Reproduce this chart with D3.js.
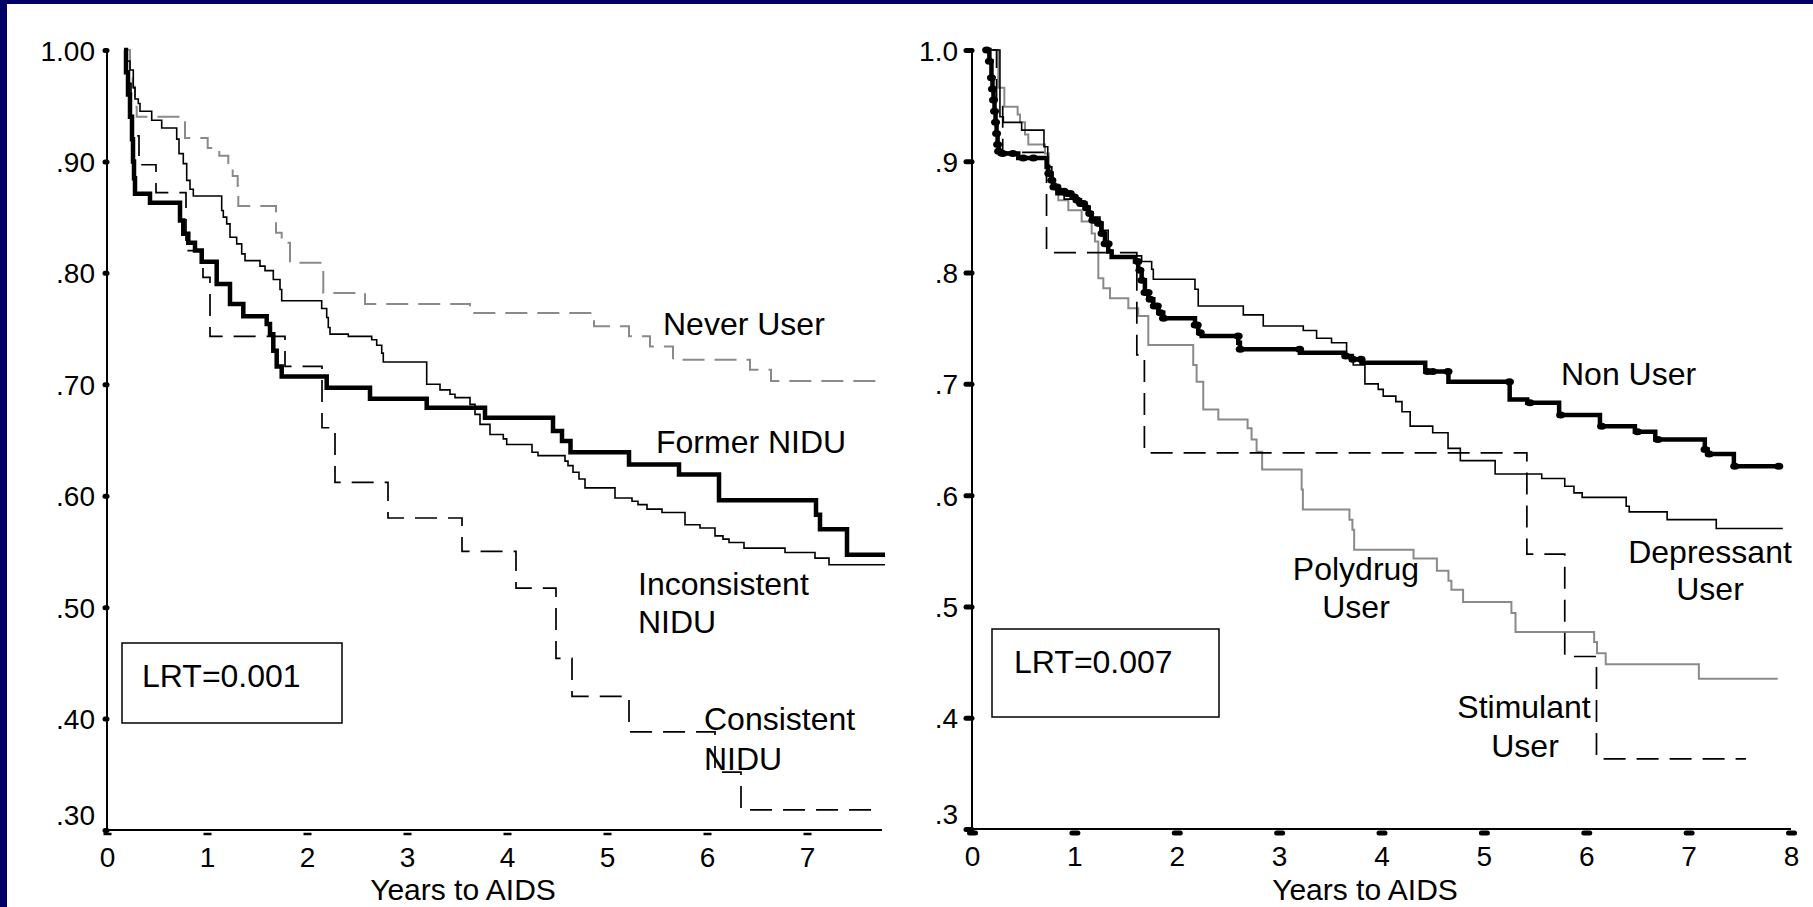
<!DOCTYPE html>
<html>
<head>
<meta charset="utf-8">
<script src="https://cdn.jsdelivr.net/npm/d3@7/dist/d3.min.js"></script>
<style>
html,body{margin:0;padding:0;background:#000068;}
svg{display:block;}
text{font-family:"Liberation Sans",Arial,sans-serif;fill:#000;}
</style>
</head>
<body>
<svg id="chart" width="1813" height="907"></svg>
<script>
// ---------- DATA (time in years, survival proportion) ----------
const leftXTicks = [0,1,2,3,4,5,6,7];
const leftYTicks = [1.0,0.9,0.8,0.7,0.6,0.5,0.4,0.3];
const leftYLabels = ["1.00",".90",".80",".70",".60",".50",".40",".30"];

const neverUser = [[0.213,1.0],[0.23,0.982],[0.257,0.967],[0.28,0.949],[0.297,0.94],[0.78,0.921],[1.007,0.912],[1.123,0.905],[1.213,0.896],[1.257,0.887],[1.307,0.878],[1.313,0.86],[1.69,0.836],[1.747,0.827],[1.83,0.809],[2.163,0.782],[2.58,0.772],[3.63,0.764],[4.87,0.752],[5.22,0.743],[5.43,0.734],[5.66,0.722],[6.43,0.713],[6.64,0.703],[7.78,0.703]];

const formerNIDU = [[0.17,1.0],[0.19,0.98],[0.21,0.96],[0.23,0.94],[0.25,0.92],[0.26,0.9],[0.27,0.885],[0.28,0.871],[0.43,0.863],[0.73,0.847],[0.763,0.835],[0.813,0.827],[0.88,0.82],[0.947,0.81],[1.097,0.79],[1.23,0.772],[1.363,0.761],[1.597,0.754],[1.63,0.745],[1.663,0.73],[1.697,0.716],[1.747,0.707],[2.197,0.697],[2.63,0.687],[3.197,0.679],[3.78,0.67],[4.46,0.658],[4.55,0.649],[4.635,0.639],[5.22,0.628],[5.72,0.619],[6.12,0.596],[7.09,0.583],[7.13,0.57],[7.4,0.547],[7.78,0.547]];

const inconsistentNIDU = [[0.18,1.0],[0.2,0.99],[0.23,0.982],[0.263,0.966],[0.28,0.956],[0.313,0.952],[0.33,0.945],[0.447,0.937],[0.547,0.93],[0.697,0.92],[0.72,0.907],[0.763,0.898],[0.797,0.883],[0.83,0.875],[0.863,0.869],[1.147,0.856],[1.163,0.85],[1.197,0.844],[1.23,0.832],[1.297,0.826],[1.347,0.817],[1.38,0.811],[1.53,0.806],[1.58,0.802],[1.663,0.794],[1.73,0.785],[1.747,0.775],[2.147,0.768],[2.197,0.76],[2.213,0.751],[2.23,0.745],[2.413,0.743],[2.647,0.74],[2.697,0.735],[2.747,0.728],[2.763,0.72],[3.197,0.70],[3.33,0.695],[3.43,0.691],[3.48,0.688],[3.63,0.682],[3.68,0.673],[3.73,0.664],[3.83,0.655],[3.963,0.651],[3.997,0.646],[4.25,0.639],[4.31,0.636],[4.58,0.631],[4.61,0.627],[4.66,0.621],[4.72,0.615],[4.78,0.607],[5.08,0.598],[5.25,0.595],[5.31,0.592],[5.4,0.588],[5.55,0.585],[5.78,0.574],[5.93,0.571],[6.08,0.564],[6.16,0.561],[6.22,0.558],[6.37,0.553],[6.78,0.549],[7.08,0.544],[7.22,0.538],[7.78,0.538]];

const consistentNIDU = [[0.17,1.0],[0.2,0.97],[0.24,0.923],[0.32,0.897],[0.49,0.872],[0.79,0.82],[0.96,0.796],[1.03,0.743],[1.78,0.716],[2.15,0.661],[2.28,0.612],[2.81,0.58],[3.55,0.55],[4.09,0.517],[4.49,0.454],[4.65,0.42],[5.22,0.388],[6.08,0.352],[6.34,0.318],[7.69,0.318]];

const rightXTicks = [0,1,2,3,4,5,6,7,8];
const rightYTicks = [1.0,0.9,0.8,0.7,0.6,0.5,0.4,0.3];
const rightYLabels = ["1.0",".9",".8",".7",".6",".5",".4",".3"];

const nonUser = [[0.143,1.0],[0.17,0.99],[0.19,0.975],[0.2,0.965],[0.21,0.955],[0.22,0.945],[0.23,0.935],[0.24,0.925],[0.25,0.915],[0.26,0.909],[0.273,0.907],[0.452,0.903],[0.729,0.895],[0.745,0.889],[0.778,0.883],[0.794,0.877],[0.843,0.873],[0.908,0.871],[0.973,0.868],[1.006,0.865],[1.055,0.862],[1.104,0.858],[1.136,0.853],[1.169,0.847],[1.217,0.844],[1.266,0.835],[1.299,0.826],[1.331,0.819],[1.364,0.814],[1.592,0.81],[1.624,0.802],[1.657,0.793],[1.689,0.782],[1.722,0.776],[1.771,0.77],[1.82,0.764],[1.868,0.759],[2.178,0.753],[2.21,0.746],[2.243,0.743],[2.601,0.737],[2.617,0.731],[3.203,0.728],[3.643,0.725],[3.708,0.722],[3.805,0.719],[4.427,0.711],[4.654,0.702],[5.252,0.686],[5.423,0.683],[5.735,0.672],[6.134,0.662],[6.475,0.657],[6.674,0.65],[7.158,0.641],[7.186,0.637],[7.442,0.626],[7.898,0.626]];
const nonUserCensor = [0.143,0.17,0.19,0.2,0.21,0.22,0.23,0.24,0.25,0.26,0.3,0.4,0.5,0.6,0.75,0.78,0.8,0.83,0.86,0.9,0.93,0.96,1.0,1.03,1.06,1.09,1.12,1.15,1.18,1.21,1.24,1.27,1.3,1.33,1.62,1.64,1.66,1.69,1.72,1.74,1.78,1.81,1.84,1.87,2.18,2.2,2.23,2.6,2.62,3.2,3.65,3.72,3.8,4.45,4.5,4.65,5.25,5.45,5.75,6.15,6.5,6.7,7.16,7.2,7.45,7.88];

const depressantUser = [[0.18,1.0],[0.273,0.94],[0.306,0.935],[0.485,0.928],[0.703,0.913],[0.74,0.895],[0.78,0.88],[0.82,0.87],[0.9,0.866],[1.05,0.86],[1.15,0.85],[1.25,0.838],[1.33,0.82],[1.364,0.815],[1.657,0.81],[1.755,0.803],[1.771,0.794],[2.178,0.785],[2.21,0.77],[2.65,0.762],[2.845,0.752],[3.236,0.748],[3.366,0.741],[3.512,0.737],[3.659,0.726],[3.724,0.717],[3.838,0.70],[3.968,0.695],[4.017,0.689],[4.14,0.684],[4.2,0.675],[4.28,0.662],[4.5,0.656],[4.65,0.642],[4.77,0.631],[5.11,0.619],[5.565,0.615],[5.79,0.608],[5.88,0.602],[5.96,0.598],[6.39,0.59],[6.42,0.585],[6.79,0.578],[7.27,0.57],[7.92,0.57]];

const polydrugUser = [[0.2,1.0],[0.257,0.966],[0.316,0.949],[0.446,0.942],[0.469,0.935],[0.518,0.924],[0.55,0.915],[0.713,0.907],[0.75,0.89],[0.778,0.875],[0.843,0.865],[0.941,0.856],[1.071,0.846],[1.169,0.835],[1.201,0.828],[1.234,0.795],[1.283,0.786],[1.348,0.777],[1.527,0.768],[1.624,0.761],[1.722,0.735],[2.161,0.717],[2.194,0.702],[2.259,0.677],[2.406,0.668],[2.692,0.66],[2.731,0.65],[2.78,0.639],[2.834,0.623],[3.22,0.605],[3.232,0.587],[3.687,0.578],[3.716,0.569],[3.733,0.551],[4.313,0.543],[4.541,0.532],[4.654,0.523],[4.683,0.515],[4.797,0.504],[5.269,0.494],[5.309,0.477],[6.077,0.468],[6.105,0.458],[6.19,0.448],[7.1,0.435],[7.87,0.435]];

const stimulantUser = [[0.2,1.0],[0.24,0.95],[0.3,0.908],[0.728,0.818],[1.61,0.726],[1.684,0.638],[5.42,0.547],[5.79,0.455],[6.1,0.363],[7.56,0.363]];

// ---------- DRAWING ----------
const svg = d3.select("#chart");
svg.append("rect").attr("x",0).attr("y",0).attr("width",1813).attr("height",907).attr("fill","#000068");
svg.append("rect").attr("x",7).attr("y",4).attr("width",1806).attr("height",903).attr("fill","#ffffff");

const xL = d3.scaleLinear().domain([0,7.75]).range([107,882]);
const yL = d3.scaleLinear().domain([0.3,1.0]).range([830,50]);
const xR = d3.scaleLinear().domain([0,8]).range([972,1791]);
const yR = d3.scaleLinear().domain([0.3,1.0]).range([829,50]);

function stepLine(x,y){
  return d3.line().x(d=>x(d[0])).y(d=>y(d[1])).curve(d3.curveStepAfter);
}
const lineL = stepLine(xL,yL), lineR = stepLine(xR,yR);

function drawCurve(g, line, data, stroke, width, dash){
  g.append("path").attr("d", line(data)).attr("fill","none")
    .attr("stroke",stroke).attr("stroke-width",width)
    .attr("stroke-dasharray",dash||null).attr("stroke-linejoin","miter").attr("stroke-linecap","butt");
}

// ---- Left panel axes ----
const gL = svg.append("g");
const axL = gL.append("g").attr("transform",`translate(${xL(0)},0)`)
  .call(d3.axisLeft(yL).tickValues(leftYTicks).tickSize(2).tickPadding(10).tickFormat((d,i)=>leftYLabels[i]));
axL.select(".domain").attr("stroke","#000").attr("stroke-width",2).attr("d",`M0,${yL(1)}V${yL(0.3)}`);
axL.selectAll(".tick line").attr("stroke","#000").attr("stroke-width",5).attr("stroke-linecap","round");
axL.selectAll(".tick text").attr("font-size",28).attr("dy","0.36em");
axL.selectAll(".tick").filter(d=>d===0.3).select("text").attr("dy","-0.2em");

const axLB = gL.append("g").attr("transform",`translate(0,${yL(0.3)})`)
  .call(d3.axisBottom(xL).tickValues(leftXTicks).tickSize(0).tickPadding(17).tickFormat(d3.format("d")));
axLB.select(".domain").attr("stroke","#000").attr("stroke-width",2).attr("d",`M${xL(0)},0H${xL(7.75)}`);
axLB.selectAll(".tick").append("line").attr("x1",-4).attr("x2",4).attr("y1",4).attr("y2",4).attr("stroke","#000").attr("stroke-width",2.5);
axLB.selectAll(".tick text").attr("font-size",28);

// ---- Right panel axes ----
const gR = svg.append("g");
const axR = gR.append("g").attr("transform",`translate(${xR(0)},0)`)
  .call(d3.axisLeft(yR).tickValues(rightYTicks).tickSize(6).tickPadding(8).tickFormat((d,i)=>rightYLabels[i]));
axR.select(".domain").attr("stroke","#000").attr("stroke-width",2).attr("d",`M0,${yR(1)}V${yR(0.3)}`);
axR.selectAll(".tick line").attr("stroke","#000").attr("stroke-width",5).attr("stroke-linecap","round");
axR.selectAll(".tick text").attr("font-size",28).attr("dy","0.36em");
axR.selectAll(".tick").filter(d=>d===0.3).select("text").attr("dy","-0.2em");

const axRB = gR.append("g").attr("transform",`translate(0,${yR(0.3)})`)
  .call(d3.axisBottom(xR).tickValues(rightXTicks).tickSize(0).tickPadding(17).tickFormat(d3.format("d")));
axRB.select(".domain").attr("stroke","#000").attr("stroke-width",2).attr("d",`M${xR(0)},0H${xR(8)}`);
axRB.selectAll(".tick").append("line").attr("x1",-3).attr("x2",3).attr("y1",4).attr("y2",4).attr("stroke","#000").attr("stroke-width",5).attr("stroke-linecap","round");
axRB.selectAll(".tick text").attr("font-size",28);

// ---- Curves ----
drawCurve(gL, lineL, neverUser, "#8a8a8a", 2, "22,10");
drawCurve(gL, lineL, consistentNIDU, "#000", 1.7, "22,11");
drawCurve(gL, lineL, inconsistentNIDU, "#000", 1.6);
drawCurve(gL, lineL, formerNIDU, "#000", 4.5);

drawCurve(gR, lineR, polydrugUser, "#8a8a8a", 2);
drawCurve(gR, lineR, stimulantUser, "#000", 1.7, "22,11");
drawCurve(gR, lineR, depressantUser, "#000", 1.6);
drawCurve(gR, lineR, nonUser, "#000", 4.5);

function survAt(data,t){
  let v = data[0][1];
  for(const d of data){ if(d[0] <= t) v = d[1]; }
  return v;
}
gR.selectAll("ellipse.cens").data(nonUserCensor).enter().append("ellipse")
  .attr("class","cens")
  .attr("cx",d=>xR(d)).attr("cy",d=>yR(survAt(nonUser,d)))
  .attr("rx",4.5).attr("ry",3.5).attr("fill","#000");

// ---- Labels ----
function label(g,x,y,txt,anchor,size){
  g.append("text").attr("x",x).attr("y",y).attr("font-size",size||32)
    .attr("text-anchor",anchor||"start").text(txt);
}
label(gL,663,335,"Never User");
label(gL,656,453,"Former NIDU");
label(gL,638,595,"Inconsistent");
label(gL,638,633,"NIDU");
label(gL,704,730,"Consistent");
label(gL,704,770,"NIDU");
gL.append("rect").attr("x",122).attr("y",643).attr("width",220).attr("height",80).attr("fill","none").attr("stroke","#000").attr("stroke-width",1.5);
label(gL,142,687,"LRT=0.001");
label(gL,463,900,"Years to AIDS","middle",30);

label(gR,1561,385,"Non User");
label(gR,1710,563,"Depressant","middle");
label(gR,1710,600,"User","middle");
label(gR,1356,580,"Polydrug","middle");
label(gR,1356,618,"User","middle");
label(gR,1524,718,"Stimulant","middle");
label(gR,1525,757,"User","middle");
gR.append("rect").attr("x",992).attr("y",629).attr("width",227).attr("height",88).attr("fill","none").attr("stroke","#000").attr("stroke-width",1.5);
label(gR,1014,673,"LRT=0.007");
label(gR,1365,900,"Years to AIDS","middle",30);
</script>
</body>
</html>
